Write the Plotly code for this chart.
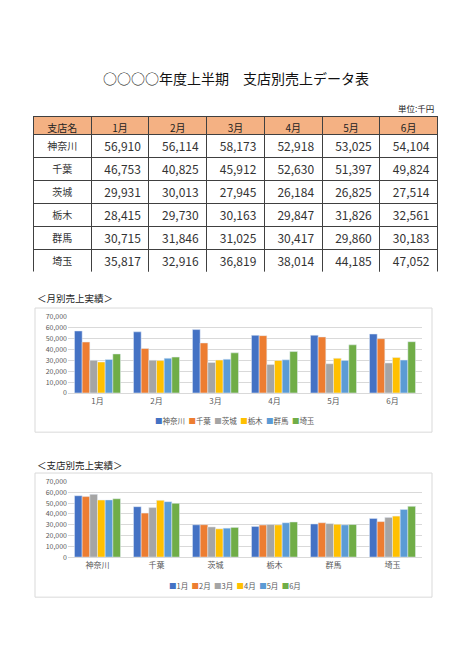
import plotly.graph_objects as go

# 支店別売上データ（単位:千円）
months = ["1月", "2月", "3月", "4月", "5月", "6月"]
branches = ["神奈川", "千葉", "茨城", "栃木", "群馬", "埼玉"]
kanagawa = [56910, 56114, 58173, 52918, 53025, 54104]
chiba = [46753, 40825, 45912, 52630, 51397, 49824]
ibaraki = [29931, 30013, 27945, 26184, 26825, 27514]
tochigi = [28415, 29730, 30163, 29847, 31826, 32561]
gunma = [30715, 31846, 31025, 30417, 29860, 30183]
saitama = [35817, 32916, 36819, 38014, 44185, 47052]

sales = [kanagawa, chiba, ibaraki, tochigi, gunma, saitama]
colors = ["#4472C4", "#ED7D31", "#A5A5A5", "#FFC000", "#5B9BD5", "#70AD47"]

W, H = 474, 670
OFF = 8  # ページ余白(body margin)の分ずらす
FONT = "Noto Sans CJK JP"


def px(x):
    return (x - OFF) / W


def py(y):
    return 1 - (y - OFF) / H


def note(text, x, y, size, color="#222", xanchor="center"):
    fig.add_annotation(text=text, x=px(x), y=py(y), xref="paper", yref="paper",
                       xanchor=xanchor, yanchor="middle", showarrow=False,
                       font=dict(family=FONT, size=size, color=color))


fig = go.Figure()

# 表
cols = [branches] + [[f"{row[i]:,}" for row in sales] for i in range(len(months))]
fig.add_trace(go.Table(
    domain=dict(x=[px(33.5), px(437.5)], y=[py(270), py(112)]),
    columnwidth=[1] * 7,
    header=dict(values=["支店名"] + months, fill_color="#F4B183",
                line=dict(color="#404040", width=1), height=18,
                align="center", font=dict(family=FONT, size=10, color="#222")),
    cells=dict(values=cols, fill_color="white",
               line=dict(color="#404040", width=1), height=23,
               align=["center"] + ["right"] * 6,
               font=dict(family=FONT, size=[10] + [12] * 6, color="#333")),
))

# 月別売上実績
for name, vals, c in zip(branches, sales, colors):
    fig.add_trace(go.Bar(x=months, y=vals, name=name, marker_color=c,
                         xaxis="x", yaxis="y"))

# 支店別売上実績
for i, (m, c) in enumerate(zip(months, colors)):
    fig.add_trace(go.Bar(x=branches, y=[row[i] for row in sales], name=m,
                         marker_color=c, xaxis="x2", yaxis="y2"))

axis_font = dict(family=FONT, size=7, color="#595959")
yax = dict(range=[0, 70000], dtick=10000, tickformat=",", gridcolor="#D9D9D9",
           tickfont=axis_font, zeroline=False, showline=False, ticks="",
           fixedrange=True)
xax = dict(tickfont=dict(family=FONT, size=8, color="#595959"), showline=True,
           linecolor="#D9D9D9", ticks="", fixedrange=True)

fig.update_layout(
    width=W, height=H, margin=dict(l=0, r=0, t=0, b=0),
    paper_bgcolor="white", plot_bgcolor="white",
    barmode="group", bargap=0.22, bargroupgap=0,
    font=dict(family=FONT), showlegend=False,
    xaxis=dict(domain=[px(68), px(422)], anchor="y", **xax),
    yaxis=dict(domain=[py(392.7), py(315.3)], anchor="x", **yax),
    xaxis2=dict(domain=[px(68), px(422)], anchor="y2", **xax),
    yaxis2=dict(domain=[py(559.3), py(482.7)], anchor="x2", **yax),
)

# 枠
for y0, y1 in [(306.5, 432.5), (474, 600)]:
    fig.add_shape(type="rect", xref="paper", yref="paper",
                  x0=px(35), x1=px(432), y0=py(y1), y1=py(y0),
                  line=dict(color="#D9D9D9", width=1), layer="below")

# 凡例
leg1 = "  ".join(f'<span style="color:{c}">■</span>{n}' for n, c in zip(branches, colors))
leg2 = "  ".join(f'<span style="color:{c}">■</span>{m}' for m, c in zip(months, colors))
note(leg1, 235, 421, 7.5, "#595959")
note(leg2, 235, 588.5, 7.5, "#595959")

note("○○○○年度上半期　支店別売上データ表", 236, 73, 14, "#111")
note("単位:千円", 436, 103, 8.5, xanchor="right")
note("＜月別売上実績＞", 35, 296, 9.5, xanchor="left")
note("＜支店別売上実績＞", 35, 466, 9.5, xanchor="left")

fig.write_html("out.html")
